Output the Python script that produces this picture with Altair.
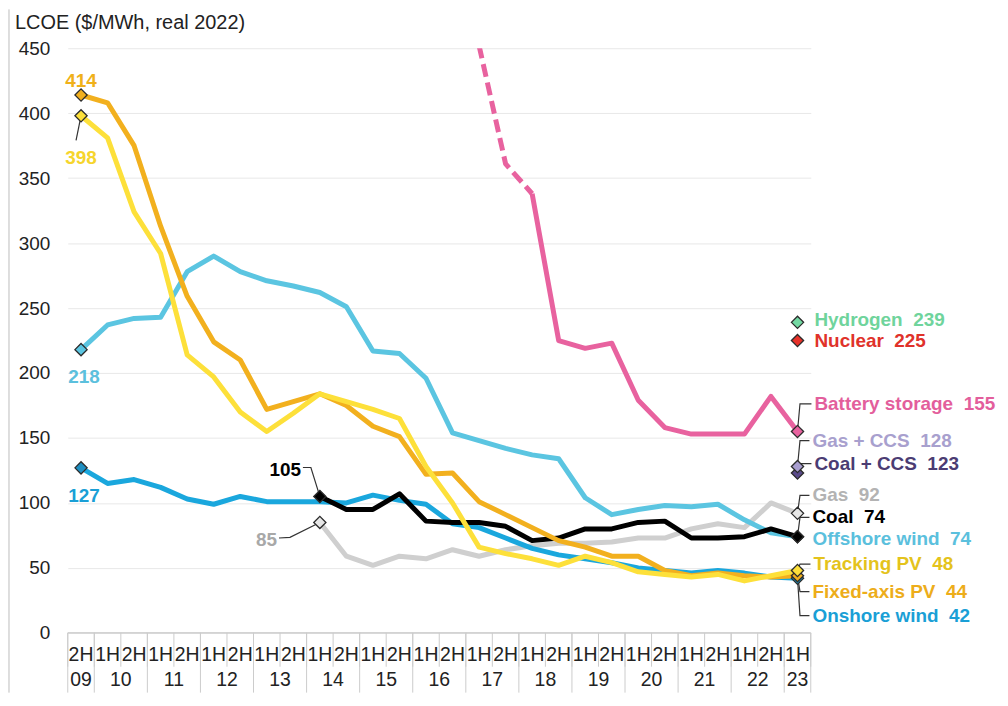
import altair as alt
import pandas as pd

# ---------------- data ----------------
periods = ["2H09", "1H10", "2H10", "1H11", "2H11", "1H12", "2H12", "1H13", "2H13",
           "1H14", "2H14", "1H15", "2H15", "1H16", "2H16", "1H17", "2H17", "1H18",
           "2H18", "1H19", "2H19", "1H20", "2H20", "1H21", "2H21", "1H22", "2H22", "1H23"]

offshore_wind = [218, 237, 242, 243, 278, 290, 278, 271, 267, 262, 251, 217, 215, 196,
                 154, 148, 142, 137, 134, 104, 91, 95, 98, 97, 99, 87, 77, 74]
onshore_wind = [127, 115, 118, 112, 103, 99, 105, 101, 101, 101, 100, 106, 102, 99,
                84, 81, 73, 65, 60, 57, 54, 50, 48, 46, 48, 46, 43, 42]
fixed_axis_pv = [414, 408, 375, 313, 259, 224, 210, 172, 178, 184, 175, 159, 151, 122,
                 123, 101, 91, 81, 71, 66, 59, 59, 48, 44, 46, 44, 43, 44]
tracking_pv = [398, 381, 324, 292, 214, 197, 170, 155, 169, 184, 178, 172, 165, 128,
               100, 66, 61, 57, 52, 59, 54, 47, 45, 43, 45, 40, 44, 48]
coal = [None] * 9 + [105, 95, 95, 107, 86, 85, 85, 82, 71, 73, 80, 80, 85, 86,
                     73, 73, 74, 80, 74]
gas = [None] * 9 + [85, 59, 52, 59, 57, 64, 59, 64, 67, 69, 69, 70, 73, 73,
                    80, 84, 81, 100, 92]
battery_dashed = [None] * 15 + [452, 361, 338] + [None] * 10
battery_solid = [None] * 17 + [338, 225, 219, 223, 179, 158, 153, 153, 153, 182, 155]
hydrogen = [None] * 27 + [239]
nuclear = [None] * 27 + [225]
gas_ccs = [None] * 27 + [128]
coal_ccs = [None] * 27 + [123]

y_ticks = [0, 50, 100, 150, 200, 250, 300, 350, 400, 450]
title_text = "LCOE ($/MWh, real 2022)"

# ---------------- styles / layout ----------------
FONT = "Liberation Sans"
W, H = 746, 587
N = len(periods)
BW = W / N  # pixels per half-year

C_OFF = "#5BC5E1"
C_ON = "#1AA7DD"
C_FIX = "#F2B01E"
C_TRK = "#FDE03A"
C_COAL = "#000000"
C_GAS = "#CFCFCF"
C_BAT = "#E8629F"

xscale = alt.Scale(domain=[0, N], nice=False, zero=False)
yscale = alt.Scale(domain=[0, 450], nice=False, zero=True)
yaxis = alt.Axis(values=y_ticks, title=None, domain=False, ticks=False, labelPadding=18,
                 labelFontSize=19, labelFont=FONT, labelColor="#222222", grid=True,
                 gridColor="#e8e8e8", gridWidth=1)


def X(field="x"):
    return alt.X(f"{field}:Q", scale=xscale, axis=None)


def Y(field="v"):
    return alt.Y(f"{field}:Q", scale=yscale, axis=yaxis)


def series_df(values):
    rows = [{"x": i + 0.5, "v": v} for i, v in enumerate(values) if v is not None]
    return pd.DataFrame(rows)


layers = []

# left border (scan frame)
dummy = pd.DataFrame({"d": [0]})
layers.append(alt.Chart(dummy).mark_rule(color="#bdbdbd", strokeWidth=1).encode(
    x=alt.value(-59), y=alt.value(-39), y2=alt.value(H + 60)))

# zero line (also carries the y axis)
layers.append(alt.Chart(pd.DataFrame({"v": [0]})).mark_rule(
    color="#c6c6c6", strokeWidth=1.3).encode(y=Y("v")))

# series lines (draw order = z order)
line_specs = [
    (gas, C_GAS, None, False),
    (offshore_wind, C_OFF, None, False),
    (onshore_wind, C_ON, None, False),
    (coal, C_COAL, None, False),
    (fixed_axis_pv, C_FIX, None, False),
    (tracking_pv, C_TRK, None, False),
    (battery_solid, C_BAT, None, False),
    (battery_dashed, C_BAT, [13, 6], True),
]
for vals, col, dash, clip in line_specs:
    kw = dict(color=col, strokeWidth=5, strokeJoin="round", clip=clip)
    if dash:
        kw["strokeDash"] = dash
        kw["strokeCap"] = "butt"
    layers.append(alt.Chart(series_df(vals)).mark_line(**kw).encode(x=X(), y=Y()))


def first(vals):
    for i, v in enumerate(vals):
        if v is not None:
            return i, v


def last(vals):
    return N - 1, vals[-1]


# ---- end labels (layout: label y in data units, x offset in px) ----
end_items = [
    # name, series, label color, marker fill, label_v, dx px, leader
    ("Hydrogen", hydrogen, "#6FD49C", "#74D9A3", 240.7, 17, False),
    ("Nuclear", nuclear, "#E0322A", "#E8322A", 224.4, 17, False),
    ("Battery storage", battery_solid, "#E35E9C", C_BAT, 176.3, 17, True),
    ("Gas + CCS", gas_ccs, "#A8A0CE", "#A99FD0", 148.0, 15, True),
    ("Coal + CCS", coal_ccs, "#4B3C73", "#5A4A8A", 130.3, 17, True),
    ("Gas", gas, "#B3B3B3", "#E6E6E6", 105.8, 15, True),
    ("Coal", coal, "#000000", C_COAL, 88.9, 15, True),
    ("Offshore wind", offshore_wind, "#5BC0DD", C_OFF, 72.0, 15, False),
    ("Tracking PV", tracking_pv, "#E4C31C", C_TRK, 52.9, 16, True),
    ("Fixed-axis PV", fixed_axis_pv, "#EDAD1A", C_FIX, 31.7, 15, True),
    ("Onshore wind", onshore_wind, "#1A9FD6", C_ON, 13.3, 15, True),
]

# ---- start labels ----
start_items = [
    # series, text color, marker fill, label_v, x offset px, align
    (fixed_axis_pv, "#F0B11A", C_FIX, 424.7, 0, "center"),
    (tracking_pv, "#F6D52C", C_TRK, 365.7, 0, "center"),
    (offshore_wind, "#5BC0DD", C_OFF, 197.0, 3, "center"),
    (onshore_wind, "#1A9FD6", "#1E8FC2", 105.0, 3, "center"),
    (coal, "#000000", C_COAL, 125.2, -19, "right"),
    (gas, "#A8A8A8", "#E6E6E6", 71.5, -43, "right"),
]

# leader lines
leader_rows = []
lid = 0
i, v = first(tracking_pv)
for s, (px, lv) in enumerate([(0, v), (-5, 379)]):
    leader_rows.append({"id": lid, "s": s, "x": i + 0.5 + px / BW, "v": lv})
lid += 1
i, v = first(coal)
for s, (px, lv) in enumerate([(0, v), (-9, 127.3), (-17, 127.3)]):
    leader_rows.append({"id": lid, "s": s, "x": i + 0.5 + px / BW, "v": lv})
lid += 1
i, v = first(gas)
for s, (px, lv) in enumerate([(0, v), (-30, 73.5), (-41, 73.0)]):
    leader_rows.append({"id": lid, "s": s, "x": i + 0.5 + px / BW, "v": lv})
lid += 1
for name, vals, tcol, fcol, lv, dx, has_leader in end_items:
    if not has_leader:
        continue
    i, v = last(vals)
    for s, (px, yv) in enumerate([(0, v), (2.5, lv), (dx - 3, lv)]):
        leader_rows.append({"id": lid, "s": s, "x": i + 0.5 + px / BW, "v": yv})
    lid += 1
layers.append(alt.Chart(pd.DataFrame(leader_rows)).mark_line(
    color="#333333", strokeWidth=1.2).encode(
    x=X(), y=Y(), detail="id:N", order="s:Q"))

# markers
marker_rows = []
for vals, tcol, fcol, lv, dx, al in start_items:
    i, v = first(vals)
    marker_rows.append({"x": i + 0.5, "v": v, "fill": fcol})
end_draw_order = ["Offshore wind", "Coal", "Gas", "Onshore wind", "Fixed-axis PV",
                  "Tracking PV", "Coal + CCS", "Gas + CCS", "Battery storage",
                  "Nuclear", "Hydrogen"]
end_map = {e[0]: e for e in end_items}
for nm in end_draw_order:
    name, vals, tcol, fcol, lv, dx, hl = end_map[nm]
    i, v = last(vals)
    marker_rows.append({"x": i + 0.5, "v": v, "fill": fcol})
layers.append(alt.Chart(pd.DataFrame(marker_rows)).mark_point(
    shape="diamond", filled=True, size=150, stroke="#2b2b2b", strokeWidth=1.3,
    opacity=1).encode(x=X(), y=Y(), fill=alt.Fill("fill:N", scale=None)))

# end labels text
end_rows = []
for name, vals, tcol, fcol, lv, dx, hl in end_items:
    i, v = last(vals)
    end_rows.append({"x": i + 0.5 + dx / BW, "v": lv,
                     "t": f"{name}\u00a0\u00a0{v}", "c": tcol})
layers.append(alt.Chart(pd.DataFrame(end_rows)).mark_text(
    align="left", baseline="middle", font=FONT, fontSize=19, fontWeight="bold").encode(
    x=X(), y=Y(), text="t:N", color=alt.Color("c:N", scale=None)))

# start labels text
for align in ["center", "right"]:
    rows = []
    for vals, tcol, fcol, lv, dx, al in start_items:
        if al != align:
            continue
        i, v = first(vals)
        rows.append({"x": i + 0.5 + dx / BW, "v": lv, "t": str(v), "c": tcol})
    layers.append(alt.Chart(pd.DataFrame(rows)).mark_text(
        align=align, baseline="middle", font=FONT, fontSize=19, fontWeight="bold").encode(
        x=X(), y=Y(), text="t:N", color=alt.Color("c:N", scale=None)))

# ---------------- x axis (two-row category axis) ----------------
half_df = pd.DataFrame({"x": [i + 0.5 for i in range(N)], "t": [p[:2] for p in periods]})
layers.append(alt.Chart(half_df).mark_text(
    align="center", baseline="middle", font=FONT, fontSize=19.5, color="#222222").encode(
    x=X(), y=alt.value(H + 22), text="t:N"))

year_order = []
for p in periods:
    if p[2:] not in year_order:
        year_order.append(p[2:])
year_rows = []
for yr in year_order:
    idx = [i for i, p in enumerate(periods) if p[2:] == yr]
    year_rows.append({"x": sum(idx) / len(idx) + 0.5, "t": yr})
layers.append(alt.Chart(pd.DataFrame(year_rows)).mark_text(
    align="center", baseline="middle", font=FONT, fontSize=19.5, color="#222222").encode(
    x=X(), y=alt.value(H + 47), text="t:N"))

sep_short = pd.DataFrame({"x": list(range(N + 1))})
layers.append(alt.Chart(sep_short).mark_rule(color="#cccccc", strokeWidth=1).encode(
    x=X(), y=alt.value(H), y2=alt.value(H + 34)))
year_bounds = [b for b in range(N + 1)
               if b == 0 or b == N or periods[b][2:] != periods[b - 1][2:]]
layers.append(alt.Chart(pd.DataFrame({"x": year_bounds})).mark_rule(
    color="#cccccc", strokeWidth=1).encode(
    x=X(), y=alt.value(H), y2=alt.value(H + 60)))

# title
layers.append(alt.Chart(dummy).mark_text(
    text=title_text, align="left", baseline="middle", font=FONT, fontSize=20,
    color="#222222").encode(x=alt.value(-53), y=alt.value(-25)))

chart = alt.layer(*layers).properties(
    width=W, height=H,
    padding={"left": 60, "top": 39, "right": 190, "bottom": 60},
    autosize=alt.AutoSizeParams(type="none"),
    background="white",
).configure_view(stroke=None)

chart.save("out.html", embed_options={"renderer": "svg", "actions": False})
